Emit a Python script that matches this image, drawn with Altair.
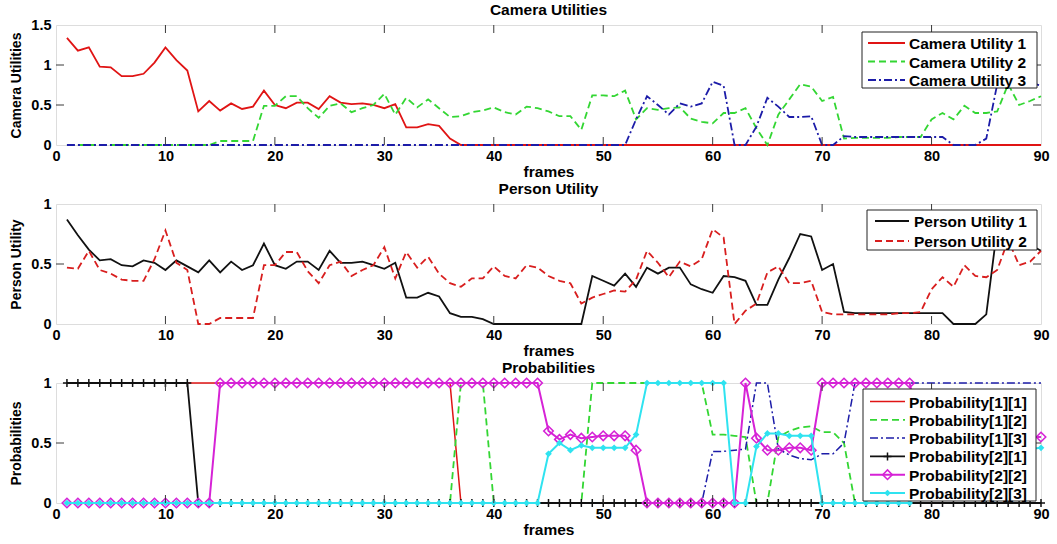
import altair as alt
import pandas as pd

# ---------------- data ----------------
frames = list(range(1, 91))

cam_u1 = [1.34, 1.18, 1.22, 0.98, 0.97, 0.86, 0.86, 0.89, 1.03, 1.22,
          1.06, 0.93, 0.42, 0.55, 0.43, 0.52, 0.45, 0.48, 0.68, 0.50,
          0.46, 0.53, 0.53, 0.45, 0.61, 0.53, 0.51, 0.52, 0.50, 0.46,
          0.51, 0.22, 0.22, 0.26, 0.24, 0.08, 0, 0, 0, 0,
          0, 0, 0, 0, 0, 0, 0, 0, 0, 0,
          0, 0, 0, 0, 0, 0, 0, 0, 0, 0,
          0, 0, 0, 0, 0, 0, 0, 0, 0, 0,
          0, 0, 0, 0, 0, 0, 0, 0, 0, 0,
          0, 0, 0, 0, 0, 0, 0, 0, 0, 0]
cam_u2 = [0, 0, 0, 0, 0, 0, 0, 0, 0, 0,
          0, 0, 0, 0, 0.05, 0.05, 0.05, 0.05, 0.49, 0.49,
          0.61, 0.61, 0.46, 0.34, 0.49, 0.52, 0.41, 0.46, 0.50, 0.64,
          0.38, 0.59, 0.47, 0.57, 0.46, 0.35, 0.36, 0.41, 0.43, 0.47,
          0.41, 0.38, 0.48, 0.46, 0.42, 0.36, 0.36, 0.19, 0.62, 0.62,
          0.61, 0.68, 0.32, 0.46, 0.44, 0.46, 0.47, 0.33, 0.29, 0.27,
          0.40, 0.40, 0.46, 0.21, 0.00, 0.38, 0.57, 0.76, 0.73, 0.55,
          0.60, 0.08, 0.09, 0.09, 0.09, 0.09, 0.10, 0.10, 0.10, 0.32,
          0.40, 0.32, 0.49, 0.40, 0.40, 0.42, 0.76, 0.50, 0.55, 0.61]
cam_u3 = [0, 0, 0, 0, 0, 0, 0, 0, 0, 0,
          0, 0, 0, 0, 0, 0, 0, 0, 0, 0,
          0, 0, 0, 0, 0, 0, 0, 0, 0, 0,
          0, 0, 0, 0, 0, 0, 0, 0, 0, 0,
          0, 0, 0, 0, 0, 0, 0, 0, 0, 0,
          0, 0, 0.32, 0.61, 0.50, 0.38, 0.52, 0.48, 0.52, 0.79,
          0.74, 0, 0, 0.23, 0.59, 0.48, 0.35, 0.35, 0.36, 0,
          0, 0.11, 0.10, 0.10, 0.10, 0.10, 0.10, 0.10, 0.10, 0.10,
          0.10, 0, 0, 0, 0.08, 0.76, 0.85, 0.82, 0.78, 0.74]

per_u1 = [0.87, 0.74, 0.62, 0.53, 0.54, 0.49, 0.48, 0.53, 0.51, 0.45,
          0.53, 0.48, 0.43, 0.53, 0.43, 0.52, 0.45, 0.49, 0.67, 0.49,
          0.46, 0.52, 0.52, 0.45, 0.61, 0.51, 0.51, 0.52, 0.49, 0.46,
          0.51, 0.22, 0.22, 0.26, 0.23, 0.09, 0.06, 0.06, 0.04, 0,
          0, 0, 0, 0, 0, 0, 0, 0, 0.40, 0.36,
          0.32, 0.42, 0.31, 0.47, 0.42, 0.47, 0.47, 0.33, 0.29, 0.26,
          0.40, 0.39, 0.36, 0.16, 0.16, 0.37, 0.55, 0.75, 0.73, 0.45,
          0.50, 0.10, 0.09, 0.09, 0.09, 0.09, 0.09, 0.09, 0.09, 0.09,
          0.09, 0, 0, 0, 0.08, 0.80, 0.82, 0.75, 0.66, 0.61]
per_u2 = [0.47, 0.46, 0.61, 0.45, 0.42, 0.37, 0.36, 0.36, 0.54, 0.78,
          0.51, 0.45, 0, 0, 0.05, 0.05, 0.05, 0.05, 0.49, 0.49,
          0.60, 0.60, 0.44, 0.34, 0.49, 0.52, 0.40, 0.45, 0.49, 0.64,
          0.38, 0.60, 0.47, 0.56, 0.42, 0.34, 0.31, 0.38, 0.38, 0.48,
          0.40, 0.38, 0.49, 0.47, 0.40, 0.36, 0.34, 0.17, 0.22, 0.25,
          0.28, 0.27, 0.37, 0.61, 0.51, 0.39, 0.52, 0.48, 0.54, 0.79,
          0.72, 0, 0.11, 0.17, 0.43, 0.48, 0.34, 0.34, 0.36, 0.10,
          0.08, 0.08, 0.08, 0.08, 0.08, 0.08, 0.09, 0.09, 0.10, 0.29,
          0.39, 0.31, 0.49, 0.40, 0.39, 0.45, 0.70, 0.49, 0.52, 0.61]

p11 = [1, 1, 1, 1, 1, 1, 1, 1, 1, 1,
       1, 1, 1, 1, 1, 1, 1, 1, 1, 1,
       1, 1, 1, 1, 1, 1, 1, 1, 1, 1,
       1, 1, 1, 1, 1, 1, 0, 0, 0, 0,
       0, 0, 0, 0, 0, 0, 0, 0, 0, 0,
       0, 0, 0, 0, 0, 0, 0, 0, 0, 0,
       0, 0, 0, 0, 0, 0, 0, 0, 0, 0,
       0, 0, 0, 0, 0, 0, 0, 0, 0, 0,
       0, 0, 0, 0, 0, 0, 0, 0, 0, 0]
p12 = [0, 0, 0, 0, 0, 0, 0, 0, 0, 0,
       0, 0, 0, 0, 0, 0, 0, 0, 0, 0,
       0, 0, 0, 0, 0, 0, 0, 0, 0, 0,
       0, 0, 0, 0, 0, 0, 1, 1, 1, 0,
       0, 0, 0, 0, 0, 0, 0, 0, 1, 1,
       1, 1, 1, 1, 1, 1, 1, 1, 1, 0.57,
       0.57, 0.56, 0.55, 0, 0, 0.55, 0.60, 0.63, 0.64, 0.59,
       0.59, 0.50, 0, 0, 0, 0, 0, 0, 0, 0,
       0, 0, 0, 0, 0, 0, 0, 0, 0, 0]
p13 = [0, 0, 0, 0, 0, 0, 0, 0, 0, 0,
       0, 0, 0, 0, 0, 0, 0, 0, 0, 0,
       0, 0, 0, 0, 0, 0, 0, 0, 0, 0,
       0, 0, 0, 0, 0, 0, 0, 0, 0, 0,
       0, 0, 0, 0, 0, 0, 0, 0, 0, 0,
       0, 0, 0, 0, 0, 0, 0, 0, 0, 0.43,
       0.43, 0.44, 0.45, 1, 1, 0.45, 0.40, 0.37, 0.36, 0.41,
       0.41, 0.50, 1, 1, 1, 1, 1, 1, 1, 1,
       1, 1, 1, 1, 1, 1, 1, 1, 1, 1]
p21 = [1, 1, 1, 1, 1, 1, 1, 1, 1, 1,
       1, 1, 0, 0, 0, 0, 0, 0, 0, 0,
       0, 0, 0, 0, 0, 0, 0, 0, 0, 0,
       0, 0, 0, 0, 0, 0, 0, 0, 0, 0,
       0, 0, 0, 0, 0, 0, 0, 0, 0, 0,
       0, 0, 0, 0, 0, 0, 0, 0, 0, 0,
       0, 0, 0, 0, 0, 0, 0, 0, 0, 0,
       0, 0, 0, 0, 0, 0, 0, 0, 0, 0,
       0, 0, 0, 0, 0, 0, 0, 0, 0, 0]
p22 = [0, 0, 0, 0, 0, 0, 0, 0, 0, 0,
       0, 0, 0, 0, 1, 1, 1, 1, 1, 1,
       1, 1, 1, 1, 1, 1, 1, 1, 1, 1,
       1, 1, 1, 1, 1, 1, 1, 1, 1, 1,
       1, 1, 1, 1, 0.60, 0.53, 0.57, 0.54, 0.55, 0.56,
       0.56, 0.56, 0.44, 0, 0, 0, 0, 0, 0, 0,
       0, 0, 1, 0.54, 0.44, 0.44, 0.46, 0.46, 0.44, 1,
       1, 1, 1, 1, 1, 1, 1, 1, 0.55, 0.55,
       0.55, 0.55, 0.55, 0.55, 0.55, 0.55, 0.55, 0.55, 0.55, 0.55]
p23 = [0, 0, 0, 0, 0, 0, 0, 0, 0, 0,
       0, 0, 0, 0, 0, 0, 0, 0, 0, 0,
       0, 0, 0, 0, 0, 0, 0, 0, 0, 0,
       0, 0, 0, 0, 0, 0, 0, 0, 0, 0,
       0, 0, 0, 0, 0.41, 0.50, 0.44, 0.48, 0.46, 0.46,
       0.46, 0.46, 0.57, 1, 1, 1, 1, 1, 1, 1,
       1, 0, 0, 0.47, 0.58, 0.58, 0.56, 0.56, 0.56, 0,
       0, 0, 0, 0, 0, 0, 0, 0, 0.45, 0.45,
       0.45, 0.45, 0.45, 0.45, 0.45, 0.45, 0.45, 0.45, 0.45, 0.46]

x_tick_labels = [0, 10, 20, 30, 40, 50, 60, 70, 80, 90]
x_inner_ticks = [10, 20, 30, 40, 50, 60, 70, 80]
cam_y_ticks = [0, 0.5, 1, 1.5]
cam_y_inner = [0.5, 1]
unit_y_ticks = [0, 0.5, 1]
unit_y_inner = [0.5]

cam_labels = ["Camera Utility 1", "Camera Utility 2", "Camera Utility 3"]
per_labels = ["Person Utility 1", "Person Utility 2"]
prob_labels = ["Probability[1][1]", "Probability[1][2]", "Probability[1][3]",
               "Probability[2][1]", "Probability[2][2]", "Probability[2][3]"]

# ---------------- styles ----------------
FONT = "Liberation Sans"
W, H = 985, 120
RED, GREEN, BLUE = "#e01414", "#33d633", "#1c1ca8"
BLACK, MAG, CYAN = "#111111", "#d622d6", "#2fe3f0"
DASH = [7, 4]
DASHDOT = [8, 3, 2, 3]
PLUS = "M-1,0L1,0M0,-1L0,1"
TICK_LEN = 8
FRAME = "#3a3a3a"


def panel(series, ydomain, yticks, yinner, ytitle, title, legend):
    xscale = alt.Scale(domain=[0, 90], nice=False, zero=False)
    yscale = alt.Scale(domain=ydomain, nice=False, zero=False)
    xaxis = alt.Axis(values=x_tick_labels, title="frames", ticks=False, domain=False,
                     grid=False, labelFlush=False, labelFontSize=14.5, labelFontWeight="bold",
                     labelColor="#000", labelPadding=4, titleFontSize=15.5,
                     titleFontWeight="bold", titleColor="#000", titlePadding=2)
    yaxis = alt.Axis(values=yticks, title=ytitle, ticks=False, domain=False, grid=False,
                     labelExpr="'' + datum.value", labelFontSize=14.5, labelFontWeight="bold",
                     labelColor="#000", labelPadding=5, titleFontSize=14,
                     titleFontWeight="bold", titleColor="#000", titlePadding=7)
    X = lambda f: alt.X(f, scale=xscale, axis=xaxis)
    Y = lambda f: alt.Y(f, scale=yscale, axis=yaxis)

    layers = []
    for s in series:
        df = pd.DataFrame({"frame": frames, "value": s["values"]})
        kw = dict(color=s["color"], strokeWidth=s.get("width", 1.8))
        if s.get("dash"):
            kw["strokeDash"] = s["dash"]
        layers.append(alt.Chart(df).mark_line(**kw).encode(x=X("frame:Q"), y=Y("value:Q")))
        if s.get("marker"):
            m = s["marker"]
            pkw = dict(shape=m["shape"], size=m["size"], filled=m["filled"], color=s["color"],
                       opacity=1, strokeWidth=m.get("sw", 1.5))
            layers.append(alt.Chart(df).mark_point(**pkw).encode(x=X("frame:Q"), y=Y("value:Q")))

    # inner ticks (MATLAB style)
    xt = pd.DataFrame({"t": x_inner_ticks})
    layers.append(alt.Chart(xt).mark_rule(color=FRAME, strokeWidth=1).encode(
        x=X("t:Q"), y=alt.value(0), y2=alt.value(TICK_LEN)))
    layers.append(alt.Chart(xt).mark_rule(color=FRAME, strokeWidth=1).encode(
        x=X("t:Q"), y=alt.value(H), y2=alt.value(H - TICK_LEN)))
    yt = pd.DataFrame({"t": yinner})
    layers.append(alt.Chart(yt).mark_rule(color=FRAME, strokeWidth=1).encode(
        y=Y("t:Q"), x=alt.value(0), x2=alt.value(TICK_LEN)))
    layers.append(alt.Chart(yt).mark_rule(color=FRAME, strokeWidth=1).encode(
        y=Y("t:Q"), x=alt.value(W), x2=alt.value(W - TICK_LEN)))

    # legend box
    one = pd.DataFrame({"k": [0]})
    bx0, bx1, by0, by1 = legend["box"]
    layers.append(alt.Chart(one).mark_rect(fill="white", stroke="#222", strokeWidth=1).encode(
        x=alt.value(bx0), x2=alt.value(bx1), y=alt.value(by0), y2=alt.value(by1)))
    lx0, lx1, tx = legend["line_x0"], legend["line_x1"], legend["text_x"]
    for i, s in enumerate(series):
        ry = legend["row0"] + i * legend["row_step"]
        kw = dict(color=s["color"], strokeWidth=s.get("width", 1.8))
        if s.get("dash"):
            kw["strokeDash"] = s["dash"]
        layers.append(alt.Chart(one).mark_rule(**kw).encode(
            x=alt.value(lx0), x2=alt.value(lx1), y=alt.value(ry)))
        if s.get("marker"):
            m = s["marker"]
            layers.append(alt.Chart(one).mark_point(
                shape=m["shape"], size=m["size"], filled=m["filled"], color=s["color"],
                opacity=1, strokeWidth=m.get("sw", 1.5)).encode(
                x=alt.value((lx0 + lx1) / 2), y=alt.value(ry)))
        layers.append(alt.Chart(one).mark_text(
            align="left", baseline="middle", font=FONT, fontSize=15.5, fontWeight="bold",
            color="#000").encode(x=alt.value(tx), y=alt.value(ry + 1),
                                 text=alt.value(s["label"])))

    return alt.layer(*layers).properties(
        width=W, height=H,
        title=alt.TitleParams(title, fontSize=15.5, fontWeight="bold", font=FONT,
                              color="#000", anchor="middle", offset=4, dy=5, frame="group"))


cam_series = [
    dict(values=cam_u1, color=RED, label=cam_labels[0]),
    dict(values=cam_u2, color=GREEN, dash=DASH, label=cam_labels[1]),
    dict(values=cam_u3, color=BLUE, dash=DASHDOT, label=cam_labels[2]),
]
per_series = [
    dict(values=per_u1, color=BLACK, label=per_labels[0]),
    dict(values=per_u2, color="#d81e1e", dash=DASH, label=per_labels[1]),
]
prob_series = [
    dict(values=p11, color=RED, width=1.5, label=prob_labels[0]),
    dict(values=p12, color=GREEN, dash=DASH, label=prob_labels[1]),
    dict(values=p13, color=BLUE, dash=DASHDOT, width=1.5, label=prob_labels[2]),
    dict(values=p21, color=BLACK, label=prob_labels[3],
         marker=dict(shape=PLUS, size=64, filled=False, sw=1.5)),
    dict(values=p22, color=MAG, width=2, label=prob_labels[4],
         marker=dict(shape="diamond", size=90, filled=False, sw=1.6)),
    dict(values=p23, color=CYAN, width=2, label=prob_labels[5],
         marker=dict(shape="diamond", size=45, filled=True, sw=1)),
]

c1 = panel(cam_series, [0, 1.5], cam_y_ticks, cam_y_inner, "Camera Utilities",
           "Camera Utilities",
           dict(box=(806, 981, 7, 63), line_x0=812, line_x1=849, text_x=853,
                row0=18, row_step=18.5))
c2 = panel(per_series, [0, 1], unit_y_ticks, unit_y_inner, "Person Utility",
           "Person Utility",
           dict(box=(811, 981, 6, 46), line_x0=819, line_x1=853, text_x=858,
                row0=17, row_step=20))
c3 = panel(prob_series, [0, 1], unit_y_ticks, unit_y_inner, "Probabilities",
           "Probabilities",
           dict(box=(807, 980, 6, 118), line_x0=814, line_x1=849, text_x=853,
                row0=18.5, row_step=18.3))

chart = alt.vconcat(c1, c2, c3, spacing=0).properties(
    padding={"left": 9, "top": 2, "right": 5, "bottom": 2},
    background="white",
).configure_view(stroke=FRAME, strokeWidth=1).configure(font=FONT)

chart.save("out.html", embed_options={"renderer": "svg", "actions": False})
